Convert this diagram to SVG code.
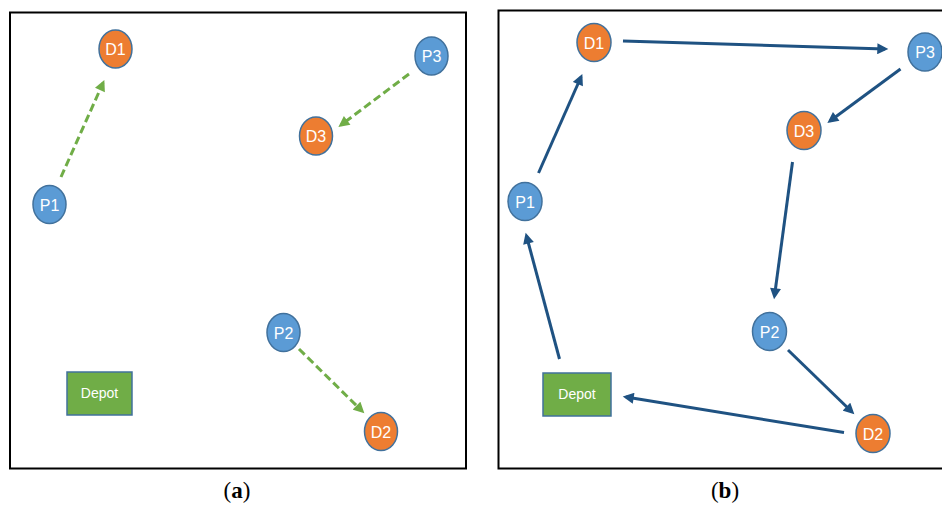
<svg xmlns="http://www.w3.org/2000/svg" width="942" height="507" viewBox="0 0 942 507">
<style>
.frame{fill:none;stroke:#000;stroke-width:2}
.pick{fill:#5B9BD5;stroke:#41719C;stroke-width:1.5}
.drop{fill:#ED7D31;stroke:#41719C;stroke-width:1.5}
.depot{fill:#70AD47;stroke:#41719C;stroke-width:1.5}
.lbl{font-family:"Liberation Sans",Arial,sans-serif;font-size:16px;fill:#fff;text-anchor:middle}
.dlbl{font-family:"Liberation Sans",Arial,sans-serif;font-size:14px;fill:#fff;text-anchor:middle}
.req{stroke:#70AD47;stroke-width:3;stroke-dasharray:8 4;fill:none}
.route{stroke:#1F5282;stroke-width:3;fill:none}
.cap{font-family:"Liberation Serif","Times New Roman",serif;font-size:23px;fill:#000;text-anchor:middle}
</style>
<defs>
<marker id="ag" viewBox="0 0 10 10" refX="7" refY="5" markerWidth="12" markerHeight="11" markerUnits="userSpaceOnUse" orient="auto">
<path d="M0,0 L10,5 L0,10 z" fill="#70AD47"/>
</marker>
<marker id="ab" viewBox="0 0 10 10" refX="7" refY="5" markerWidth="12" markerHeight="11" markerUnits="userSpaceOnUse" orient="auto">
<path d="M0,0 L10,5 L0,10 z" fill="#1F5282"/>
</marker>
</defs>
<rect class="frame" x="10" y="12.5" width="456" height="456"/>
<rect class="frame" x="498.5" y="10.5" width="446" height="458"/>
<g id="connectors">
<line class="req" x1="61" y1="177" x2="103" y2="83" marker-end="url(#ag)"/>
<line class="req" x1="409" y1="74" x2="341" y2="125" marker-end="url(#ag)"/>
<line class="req" x1="299" y1="349" x2="362" y2="411" marker-end="url(#ag)"/>
<line class="route" x1="538.5" y1="173" x2="581" y2="77" marker-end="url(#ab)"/>
<line class="route" x1="623" y1="41" x2="885" y2="49" marker-end="url(#ab)"/>
<line class="route" x1="900.5" y1="69" x2="830" y2="121" marker-end="url(#ab)"/>
<line class="route" x1="792.5" y1="162" x2="774.5" y2="296" marker-end="url(#ab)"/>
<line class="route" x1="788" y1="350" x2="852" y2="412" marker-end="url(#ab)"/>
<line class="route" x1="844" y1="432.5" x2="626" y2="397" marker-end="url(#ab)"/>
<line class="route" x1="559.5" y1="359" x2="526.5" y2="236" marker-end="url(#ab)"/>
</g>
<g id="a-D1"><ellipse class="drop" cx="115.5" cy="49" rx="16.5" ry="19"/><text class="lbl" x="115.5" y="55">D1</text></g>
<g id="a-P3"><ellipse class="pick" cx="431.5" cy="56" rx="16.5" ry="19"/><text class="lbl" x="431.5" y="62">P3</text></g>
<g id="a-D3"><ellipse class="drop" cx="316" cy="136" rx="16.5" ry="19"/><text class="lbl" x="316" y="142">D3</text></g>
<g id="a-P1"><ellipse class="pick" cx="49.5" cy="204.5" rx="16.5" ry="19"/><text class="lbl" x="49.5" y="210.5">P1</text></g>
<g id="a-P2"><ellipse class="pick" cx="283.5" cy="332.5" rx="16.5" ry="19"/><text class="lbl" x="283.5" y="338.5">P2</text></g>
<g id="a-D2"><ellipse class="drop" cx="381" cy="431.5" rx="16.5" ry="19"/><text class="lbl" x="381" y="437.5">D2</text></g>
<g id="a-Depot"><rect class="depot" x="67" y="372" width="65" height="43"/><text class="dlbl" x="99.5" y="398">Depot</text></g>
<g id="b-D1"><ellipse class="drop" cx="594" cy="42.5" rx="17" ry="19"/><text class="lbl" x="594" y="48.5">D1</text></g>
<g id="b-P3"><ellipse class="pick" cx="925" cy="52" rx="17" ry="19"/><text class="lbl" x="925" y="58">P3</text></g>
<g id="b-D3"><ellipse class="drop" cx="804" cy="130.5" rx="17" ry="19"/><text class="lbl" x="804" y="136.5">D3</text></g>
<g id="b-P1"><ellipse class="pick" cx="525" cy="201.5" rx="17" ry="19"/><text class="lbl" x="525" y="207.5">P1</text></g>
<g id="b-P2"><ellipse class="pick" cx="769.5" cy="331.5" rx="17" ry="19"/><text class="lbl" x="769.5" y="337.5">P2</text></g>
<g id="b-D2"><ellipse class="drop" cx="873" cy="433.5" rx="17" ry="19"/><text class="lbl" x="873" y="439.5">D2</text></g>
<g id="b-Depot"><rect class="depot" x="543" y="373" width="68" height="43"/><text class="dlbl" x="577" y="399">Depot</text></g>
<text class="cap" x="237" y="498">(<tspan font-weight="bold">a</tspan>)</text>
<text class="cap" x="725" y="498">(<tspan font-weight="bold">b</tspan>)</text>
</svg>
